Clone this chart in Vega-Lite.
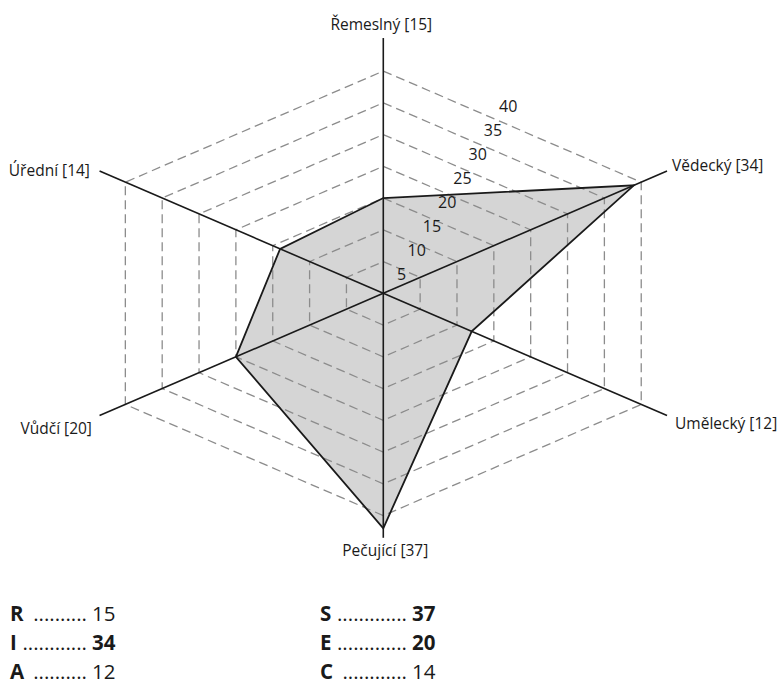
{
  "$schema": "https://vega.github.io/schema/vega-lite/v6.json",
  "width": 779,
  "height": 686,
  "padding": 0,
  "autosize": {"type": "none"},
  "background": "white",
  "config": {"view": {"stroke": null}, "font": "Open Sans", "text": {"color": "#1a1a1a"}},
  "datasets": {
    "axes": [
      {"k": 0, "name": "Řemeslný", "value": 15, "label": "Řemeslný [15]"},
      {"k": 1, "name": "Vědecký", "value": 34, "label": "Vědecký [34]"},
      {"k": 2, "name": "Umělecký", "value": 12, "label": "Umělecký [12]"},
      {"k": 3, "name": "Pečující", "value": 37, "label": "Pečující [37]"},
      {"k": 4, "name": "Vůdčí", "value": 20, "label": "Vůdčí [20]"},
      {"k": 5, "name": "Úřední", "value": 14, "label": "Úřední [14]"}
    ],
    "rings": [
      {"ring": 5, "k": [0, 1, 2, 3, 4, 5]},
      {"ring": 10, "k": [0, 1, 2, 3, 4, 5]},
      {"ring": 15, "k": [0, 1, 2, 3, 4, 5]},
      {"ring": 20, "k": [0, 1, 2, 3, 4, 5]},
      {"ring": 25, "k": [0, 1, 2, 3, 4, 5]},
      {"ring": 30, "k": [0, 1, 2, 3, 4, 5]},
      {"ring": 35, "k": [0, 1, 2, 3, 4, 5]}
    ],
    "ticks": [
      {"v": 5}, {"v": 10}, {"v": 15}, {"v": 20}, {"v": 25}, {"v": 30}, {"v": 35}, {"v": 40}
    ],
    "legend": [
      {"letter": "R", "dots": "..........", "value": 15, "col": 0, "row": 0, "top": false},
      {"letter": "I", "dots": "............", "value": 34, "col": 0, "row": 1, "top": true},
      {"letter": "A", "dots": "..........", "value": 12, "col": 0, "row": 2, "top": false},
      {"letter": "S", "dots": ".............", "value": 37, "col": 1, "row": 0, "top": true},
      {"letter": "E", "dots": ".............", "value": 20, "col": 1, "row": 1, "top": true},
      {"letter": "C", "dots": "............", "value": 14, "col": 1, "row": 2, "top": false}
    ]
  },
  "resolve": {"scale": {"x": "independent", "y": "independent"}},
  "layer": [
    {
      "layer": [
        {
          "data": {"name": "axes"},
          "transform": [
            {"calculate": "PI/2 - datum.k*PI/3", "as": "a"},
            {"calculate": "datum.value*cos(datum.a)", "as": "x"},
            {"calculate": "datum.value*sin(datum.a)", "as": "y"}
          ],
          "mark": {"type": "line", "interpolate": "linear-closed", "fill": "#d5d5d5", "strokeWidth": 0, "stroke": "#d5d5d5"},
          "encoding": {
            "x": {"field": "x", "type": "quantitative", "scale": {"domain": [-45.04, 46.5], "nice": false, "zero": false}, "axis": null},
            "y": {"field": "y", "type": "quantitative", "scale": {"domain": [-61.84, 46.19], "nice": false, "zero": false}, "axis": null},
            "order": {"field": "k", "type": "quantitative"}
          }
        },
        {
          "data": {"name": "rings"},
          "transform": [
            {"flatten": ["k"]},
            {"calculate": "PI/2 - datum.k*PI/3", "as": "a"},
            {"calculate": "datum.ring*cos(datum.a)", "as": "x"},
            {"calculate": "datum.ring*sin(datum.a)", "as": "y"}
          ],
          "mark": {"type": "line", "interpolate": "linear-closed", "stroke": "#8c8c8c", "strokeWidth": 1.3, "strokeDash": [9, 5]},
          "encoding": {
            "x": {"field": "x", "type": "quantitative", "scale": {"domain": [-45.04, 46.5], "nice": false, "zero": false}, "axis": null},
            "y": {"field": "y", "type": "quantitative", "scale": {"domain": [-61.84, 46.19], "nice": false, "zero": false}, "axis": null},
            "detail": {"field": "ring"},
            "order": {"field": "k", "type": "quantitative"}
          }
        },
        {
          "data": {"name": "axes"},
          "transform": [
            {"calculate": "PI/2 - datum.k*PI/3", "as": "a"},
            {"calculate": "datum.value*cos(datum.a)", "as": "x"},
            {"calculate": "datum.value*sin(datum.a)", "as": "y"},
            {"calculate": "datum.k == 0 ? 40.2 : 38.5", "as": "len"},
            {"calculate": "datum.len*cos(datum.a)", "as": "ex"},
            {"calculate": "datum.len*sin(datum.a)", "as": "ey"},
            {"calculate": "0", "as": "cx"}
          ],
          "layer": [
            {
              "mark": {"type": "rule", "stroke": "#1a1a1a", "strokeWidth": 1.6},
              "encoding": {
                "x": {"field": "cx", "type": "quantitative", "scale": {"domain": [-45.04, 46.5], "nice": false, "zero": false}, "axis": null},
                "y": {"field": "cx", "type": "quantitative", "scale": {"domain": [-61.84, 46.19], "nice": false, "zero": false}, "axis": null},
                "x2": {"field": "ex"},
                "y2": {"field": "ey"}
              }
            },
            {
              "mark": {"type": "line", "interpolate": "linear-closed", "stroke": "#1a1a1a", "strokeWidth": 1.8},
              "encoding": {
                "x": {"field": "x", "type": "quantitative", "scale": {"domain": [-45.04, 46.5], "nice": false, "zero": false}, "axis": null},
                "y": {"field": "y", "type": "quantitative", "scale": {"domain": [-61.84, 46.19], "nice": false, "zero": false}, "axis": null},
                "order": {"field": "k", "type": "quantitative"}
              }
            },
            {
              "transform": [{"filter": "datum.k == 0"}],
              "mark": {"type": "text", "fontSize": 15.5, "align": "center", "baseline": "middle", "dx": -2, "dy": -13},
              "encoding": {
                "x": {"field": "ex", "type": "quantitative", "scale": {"domain": [-45.04, 46.5], "nice": false, "zero": false}, "axis": null},
                "y": {"field": "ey", "type": "quantitative", "scale": {"domain": [-61.84, 46.19], "nice": false, "zero": false}, "axis": null},
                "text": {"field": "label"}
              }
            },
            {
              "transform": [{"filter": "datum.k == 1"}],
              "mark": {"type": "text", "fontSize": 15.5, "align": "left", "baseline": "middle", "dx": 5, "dy": -5},
              "encoding": {
                "x": {"field": "ex", "type": "quantitative", "scale": {"domain": [-45.04, 46.5], "nice": false, "zero": false}, "axis": null},
                "y": {"field": "ey", "type": "quantitative", "scale": {"domain": [-61.84, 46.19], "nice": false, "zero": false}, "axis": null},
                "text": {"field": "label"}
              }
            },
            {
              "transform": [{"filter": "datum.k == 2"}],
              "mark": {"type": "text", "fontSize": 15.5, "align": "left", "baseline": "middle", "dx": 8, "dy": 8.5},
              "encoding": {
                "x": {"field": "ex", "type": "quantitative", "scale": {"domain": [-45.04, 46.5], "nice": false, "zero": false}, "axis": null},
                "y": {"field": "ey", "type": "quantitative", "scale": {"domain": [-61.84, 46.19], "nice": false, "zero": false}, "axis": null},
                "text": {"field": "label"}
              }
            },
            {
              "transform": [{"filter": "datum.k == 3"}],
              "mark": {"type": "text", "fontSize": 15.5, "align": "center", "baseline": "middle", "dx": 2, "dy": 13},
              "encoding": {
                "x": {"field": "ex", "type": "quantitative", "scale": {"domain": [-45.04, 46.5], "nice": false, "zero": false}, "axis": null},
                "y": {"field": "ey", "type": "quantitative", "scale": {"domain": [-61.84, 46.19], "nice": false, "zero": false}, "axis": null},
                "text": {"field": "label"}
              }
            },
            {
              "transform": [{"filter": "datum.k == 4"}],
              "mark": {"type": "text", "fontSize": 15.5, "align": "right", "baseline": "middle", "dx": -7.6, "dy": 13.5},
              "encoding": {
                "x": {"field": "ex", "type": "quantitative", "scale": {"domain": [-45.04, 46.5], "nice": false, "zero": false}, "axis": null},
                "y": {"field": "ey", "type": "quantitative", "scale": {"domain": [-61.84, 46.19], "nice": false, "zero": false}, "axis": null},
                "text": {"field": "label"}
              }
            },
            {
              "transform": [{"filter": "datum.k == 5"}],
              "mark": {"type": "text", "fontSize": 15.5, "align": "right", "baseline": "middle", "dx": -9.6, "dy": 0},
              "encoding": {
                "x": {"field": "ex", "type": "quantitative", "scale": {"domain": [-45.04, 46.5], "nice": false, "zero": false}, "axis": null},
                "y": {"field": "ey", "type": "quantitative", "scale": {"domain": [-61.84, 46.19], "nice": false, "zero": false}, "axis": null},
                "text": {"field": "label"}
              }
            }
          ]
        },
        {
          "data": {"name": "ticks"},
          "transform": [
            {"calculate": "datum.v*0.358", "as": "x"},
            {"calculate": "datum.v*0.759", "as": "y"}
          ],
          "mark": {"type": "text", "fontSize": 16, "align": "center", "baseline": "middle", "dx": 3, "dy": 6},
          "encoding": {
            "x": {"field": "x", "type": "quantitative", "scale": {"domain": [-45.04, 46.5], "nice": false, "zero": false}, "axis": null},
            "y": {"field": "y", "type": "quantitative", "scale": {"domain": [-61.84, 46.19], "nice": false, "zero": false}, "axis": null},
            "text": {"field": "v"}
          }
        }
      ]
    },
    {
      "data": {"name": "legend"},
      "resolve": {"scale": {"x": "independent"}},
      "encoding": {
        "y": {"field": "row", "type": "quantitative", "scale": {"domain": [0, 2], "range": [621, 679]}, "axis": null}
      },
      "layer": [
        {
          "mark": {"type": "text", "align": "left", "baseline": "alphabetic", "fontSize": 20.5, "fontWeight": "bold"},
          "encoding": {
            "x": {"field": "col", "type": "quantitative", "scale": {"domain": [0, 1], "range": [10, 320]}, "axis": null},
            "text": {"field": "letter"}
          }
        },
        {
          "mark": {"type": "text", "align": "right", "baseline": "alphabetic", "fontSize": 20.5},
          "encoding": {
            "x": {"field": "col", "type": "quantitative", "scale": {"domain": [0, 1], "range": [87, 407]}, "axis": null},
            "text": {"field": "dots"}
          }
        },
        {
          "transform": [{"filter": "datum.top"}],
          "mark": {"type": "text", "align": "left", "baseline": "alphabetic", "fontSize": 20.5, "fontWeight": "bold"},
          "encoding": {
            "x": {"field": "col", "type": "quantitative", "scale": {"domain": [0, 1], "range": [92, 412]}, "axis": null},
            "text": {"field": "value"}
          }
        },
        {
          "transform": [{"filter": "!datum.top"}],
          "mark": {"type": "text", "align": "left", "baseline": "alphabetic", "fontSize": 20.5},
          "encoding": {
            "x": {"field": "col", "type": "quantitative", "scale": {"domain": [0, 1], "range": [92, 412]}, "axis": null},
            "text": {"field": "value"}
          }
        }
      ]
    }
  ]
}
